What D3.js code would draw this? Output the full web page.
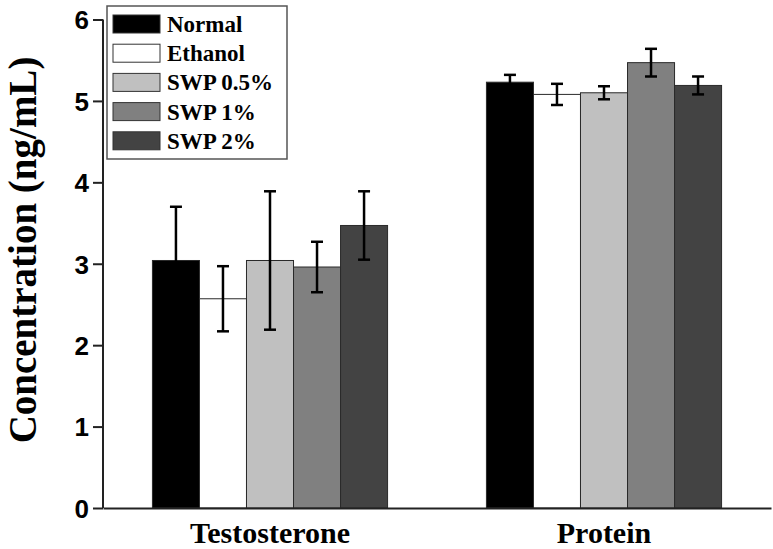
<!DOCTYPE html>
<html><head><meta charset="utf-8">
<script src="https://cdn.jsdelivr.net/npm/d3@7"></script>
<style>body{margin:0;background:#fff;}svg{display:block;}</style>
</head><body>
<svg id="chart" width="773" height="549"></svg>
<script>
const groups = ["Testosterone", "Protein"];
const seriesNames = ["Normal", "Ethanol", "SWP 0.5%", "SWP 1%", "SWP 2%"];
const seriesColors = ["#000000", "#ffffff", "#c0c0c0", "#808080", "#434343"];
const testosteroneMeans = [3.04, 2.57, 3.04, 2.96, 3.47];
const testosteroneErrors = [0.66, 0.40, 0.85, 0.31, 0.42];
const proteinMeans = [5.23, 5.08, 5.10, 5.47, 5.19];
const proteinErrors = [0.09, 0.13, 0.08, 0.17, 0.11];
const yTicks = [0, 1, 2, 3, 4, 5, 6];

const means = [testosteroneMeans, proteinMeans];
const errs = [testosteroneErrors, proteinErrors];

const svg = d3.select("#chart");
const x0 = d3.scaleBand().domain(groups).range([103, 771]).paddingInner(0.296).paddingOuter(0.148);
const x1 = d3.scaleBand().domain(seriesNames).range([0, x0.bandwidth()]).padding(0);
const y = d3.scaleLinear().domain([0, 6]).range([508, 19.5]);
const color = d3.scaleOrdinal().domain(seriesNames).range(seriesColors);

const data = [];
groups.forEach((g, gi) => seriesNames.forEach((s, si) => data.push({g, s, v: means[gi][si], e: errs[gi][si]})));

svg.append("g").selectAll("rect").data(data).join("rect")
  .attr("x", d => x0(d.g) + x1(d.s))
  .attr("y", d => y(d.v))
  .attr("width", x1.bandwidth())
  .attr("height", d => y(0) - y(d.v))
  .attr("fill", d => color(d.s))
  .attr("stroke", "#2a2a2a")
  .attr("stroke-width", 1);

const eg = svg.append("g").attr("stroke", "#000").attr("stroke-width", 2.5).attr("fill", "none");
data.forEach(d => {
  const cx = x0(d.g) + x1(d.s) + x1.bandwidth() / 2;
  eg.append("line").attr("x1", cx).attr("x2", cx).attr("y1", y(d.v + d.e)).attr("y2", y(d.v - d.e));
  eg.append("line").attr("x1", cx - 6).attr("x2", cx + 6).attr("y1", y(d.v + d.e)).attr("y2", y(d.v + d.e));
  eg.append("line").attr("x1", cx - 6).attr("x2", cx + 6).attr("y1", y(d.v - d.e)).attr("y2", y(d.v - d.e));
});

const yAxis = svg.append("g").attr("transform", "translate(103,0)")
  .call(d3.axisLeft(y).tickValues(yTicks).tickFormat(d3.format("d")).tickSize(10).tickPadding(4));
yAxis.select(".domain").attr("stroke", "#222").attr("stroke-width", 2).attr("d", `M0,${y(6)}V${y(0)}`);
yAxis.selectAll(".tick line").attr("stroke", "#222").attr("stroke-width", 2);
yAxis.selectAll(".tick text").attr("font-family", "'Liberation Sans', Arial, sans-serif")
  .attr("font-weight", "bold").attr("font-size", 26).attr("fill", "#000").attr("dy", "0.36em");

const xAxis = svg.append("g").attr("transform", `translate(0,${y(0)})`)
  .call(d3.axisBottom(x0).tickSize(0).tickPadding(14));
xAxis.select(".domain").attr("stroke", "#222").attr("stroke-width", 2);
xAxis.selectAll(".tick text").attr("font-family", "'Liberation Serif', 'Times New Roman', serif")
  .attr("font-weight", "bold").attr("font-size", 30).attr("fill", "#000").attr("dy", "0.71em");

svg.append("text")
  .attr("transform", "translate(36,250) rotate(-90)")
  .attr("text-anchor", "middle")
  .attr("font-family", "'Liberation Serif', 'Times New Roman', serif")
  .attr("font-weight", "bold").attr("font-size", 39)
  .text("Concentration (ng/mL)");

const lg = svg.append("g");
lg.append("rect").attr("x", 107).attr("y", 6).attr("width", 180).attr("height", 153)
  .attr("fill", "#fff").attr("stroke", "#555").attr("stroke-width", 1.5);
seriesNames.forEach((s, i) => {
  const cy = 24 + i * 29.2;
  lg.append("rect").attr("x", 113).attr("y", cy - 9).attr("width", 47).attr("height", 18)
    .attr("fill", color(s)).attr("stroke", "#333").attr("stroke-width", 1);
  lg.append("text").attr("x", 167).attr("y", cy).attr("dy", "0.35em")
    .attr("font-family", "'Liberation Serif', 'Times New Roman', serif")
    .attr("font-weight", "bold").attr("font-size", 23).text(s);
});
</script>
</body></html>
